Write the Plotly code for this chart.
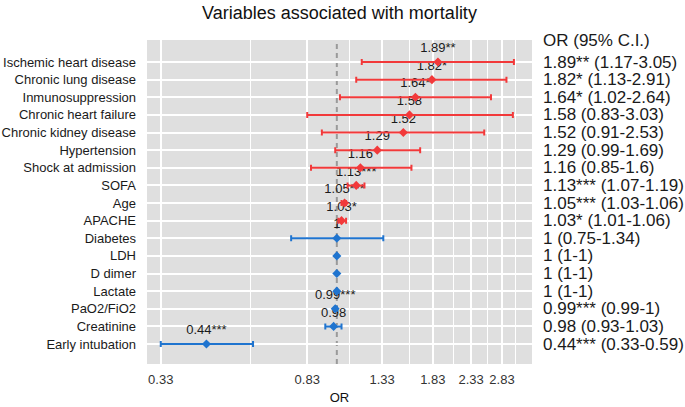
import numpy as np
import plotly.graph_objects as go

categories = ["Ischemic heart disease", "Chronic lung disease", "Inmunosuppression",
              "Chronic heart failure", "Chronic kidney disease", "Hypertension",
              "Shock at admission", "SOFA", "Age", "APACHE", "Diabetes", "LDH",
              "D dimer", "Lactate", "PaO2/FiO2", "Creatinine", "Early intubation"]
odds_ratio = [1.89, 1.82, 1.64, 1.58, 1.52, 1.29, 1.16, 1.13, 1.05, 1.03, 1, 1, 1, 1, 0.99, 0.98, 0.44]
ci_low = [1.17, 1.13, 1.02, 0.83, 0.91, 0.99, 0.85, 1.07, 1.03, 1.01, 0.75, 1, 1, 1, 0.99, 0.93, 0.33]
ci_high = [3.05, 2.91, 2.64, 3.03, 2.53, 1.69, 1.6, 1.19, 1.06, 1.06, 1.34, 1, 1, 1, 1, 1.03, 0.59]
stars = ["**", "*", "*", "", "", "", "", "***", "***", "*", "", "", "", "", "***", "", "***"]
point_labels = ["1.89**", "1.82*", "1.64*", "1.58", "1.52", "1.29", "1.16", "1.13***", "1.05***",
                "1.03*", "1", "", "", "", "0.99***", "0.98", "0.44***"]
x_ticks = [0.33, 0.83, 1.33, 1.83, 2.33, 2.83]
x_tick_labels = ["0.33", "0.83", "1.33", "1.83", "2.33", "2.83"]
x_minor = [0.58, 1.08, 1.58, 2.08, 2.58, 3.08]

RED = "#F2393A"
BLUE = "#1F74CF"
FONT = "Liberation Sans, Arial, sans-serif"

n = len(categories)
y_pos = np.arange(n, 0, -1)
orv = np.array(odds_ratio)
lo = np.array(ci_low)
hi = np.array(ci_high)

def fmt(v):
    return "%g" % v

fig = go.Figure()

# labels (drawn first so points sit on top)
fig.add_trace(go.Scatter(
    x=odds_ratio, y=y_pos, mode="markers+text", text=point_labels,
    textposition="top center",
    textfont=dict(family=FONT, size=13, color="#1a1a1a"),
    marker=dict(size=9, color="rgba(0,0,0,0)"),
    hoverinfo="skip", showlegend=False, cliponaxis=False))

for mask, col in [(orv > 1, RED), (orv <= 1, BLUE)]:
    fig.add_trace(go.Scatter(
        x=orv[mask], y=y_pos[mask], mode="markers",
        marker=dict(symbol="diamond", size=7, color=col),
        error_x=dict(type="data", symmetric=False,
                     array=(hi - orv)[mask], arrayminus=(orv - lo)[mask],
                     color=col, thickness=2, width=3),
        showlegend=False, hoverinfo="x+y"))

fig.add_shape(type="line", xref="x", yref="paper", x0=1, x1=1, y0=0, y1=1,
              line=dict(color="#9A9A9A", width=2, dash="5px,4px"), layer="between")

# right-hand OR column
fig.add_annotation(text="OR (95% C.I.)", xref="paper", yref="paper", x=1.023, y=1.0,
                   xanchor="left", yanchor="middle", showarrow=False,
                   font=dict(family=FONT, size=17, color="#1a1a1a"))
for i in range(n):
    txt = f"{fmt(odds_ratio[i])}{stars[i]} ({fmt(ci_low[i])}-{fmt(ci_high[i])})"
    fig.add_annotation(text=txt, xref="paper", yref="y", x=1.023, y=y_pos[i],
                       xanchor="left", yanchor="middle", showarrow=False,
                       font=dict(family=FONT, size=17, color="#1a1a1a"))

fig.update_layout(
    width=685, height=407,
    margin=dict(l=147, r=153, t=40, b=43, autoexpand=False),
    paper_bgcolor="white", plot_bgcolor="#DFDFDF",
    font=dict(family=FONT, color="#1a1a1a"),
    title=dict(text="Variables associated with mortality", x=0.4956, xanchor="center",
               y=0.97, yanchor="middle",
               font=dict(size=18, color="#111111")),
    xaxis=dict(type="log", range=[np.log10(0.3026), np.log10(3.418)], automargin=False,
               tickmode="array", tickvals=x_ticks, ticktext=x_tick_labels,
               showgrid=True, gridcolor="white", gridwidth=2, zeroline=False,
               showline=False, ticks="", ticklabelstandoff=6,
               tickfont=dict(size=13, color="#333333"),
               minor=dict(tickvals=x_minor, showgrid=True, gridcolor="white", gridwidth=1, ticks=""),
               title=dict(text="OR", font=dict(size=13, color="#111111"), standoff=6)),
    yaxis=dict(range=[-0.1325, 18.25], tickmode="array", tickvals=y_pos, ticktext=categories,
               automargin=False,
               showgrid=True, gridcolor="white", gridwidth=2, zeroline=False,
               showline=False, ticks="", ticklabelstandoff=10,
               tickfont=dict(size=13, color="#1a1a1a")),
)

fig.write_html("out.html", config={"displayModeBar": False},
               post_script="document.body.style.margin='0';")
